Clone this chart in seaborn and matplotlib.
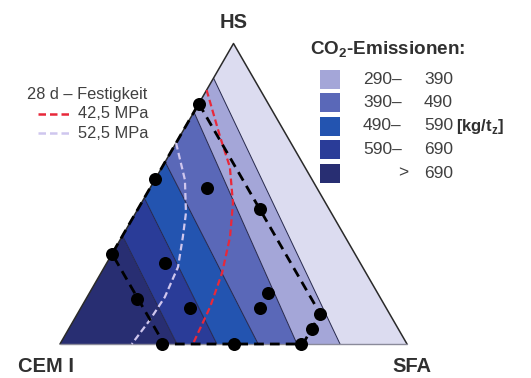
import numpy as np
import pandas as pd
import matplotlib
matplotlib.use("Agg")
import matplotlib.pyplot as plt
from matplotlib.patches import Rectangle, Polygon
import seaborn as sns

# --- CO2 emission bands: boundaries as HS share on the CEM I–HS edge and SFA share on the CEM I–SFA edge
band_levels = [690, 590, 490, 390, 290]
band_hs_edge = [0.360, 0.486, 0.606, 0.772, 0.885]
band_sfa_edge = [0.337, 0.452, 0.571, 0.683, 0.807]
band_colors = ["#282e72", "#2a3c98", "#2354b0", "#5a68b8", "#a4a6d8", "#dcdcf0"]  # >690 ... <290
legend_labels_left = ["290\u2013", "390\u2013", "490\u2013", "590\u2013", ">"]
legend_labels_right = ["390", "490", "590", "690", "690"]
legend_colors = ["#a4a6d8", "#5a68b8", "#2354b0", "#2a3c98", "#282e72"]

# --- tested mixtures (HS share, SFA share; CEM I is the rest)
mix_hs = [0.80, 0.55, 0.52, 0.45, 0.30, 0.27, 0.15, 0.17, 0.12, 0.12, 0.10, 0.05, 0.00, 0.00, 0.00]
mix_sfa = [0.00, 0.00, 0.165, 0.35, 0.00, 0.168, 0.147, 0.515, 0.516, 0.315, 0.70, 0.70, 0.294, 0.50, 0.695]

# --- boundary of the investigated region
region_hs = [0.80, 0.45, 0.10, 0.05, 0.00, 0.00, 0.15, 0.30, 0.80]
region_sfa = [0.00, 0.35, 0.70, 0.70, 0.70, 0.30, 0.15, 0.00, 0.00]

# --- 28 d strength isolines
iso425_hs = [0.845, 0.689, 0.589, 0.469, 0.356, 0.236, 0.123, 0.000]
iso425_sfa = [0.000, 0.117, 0.195, 0.264, 0.312, 0.349, 0.371, 0.383]
iso525_hs = [0.669, 0.546, 0.436, 0.356, 0.256, 0.156, 0.080, 0.000]
iso525_sfa = [0.000, 0.087, 0.145, 0.176, 0.212, 0.224, 0.219, 0.207]

SQ3 = np.sqrt(3) / 2


def tern(hs, sfa):
    hs = np.asarray(hs, float)
    sfa = np.asarray(sfa, float)
    return sfa + hs / 2, hs * SQ3


def px(xp, yp):
    # figure pixel position -> axes data position
    return (xp - 60) / 347.0, (344 - yp) / 347.0


sns.set_style("white")
plt.rcParams["font.family"] = ["Liberation Sans", "DejaVu Sans"]
plt.rcParams["mathtext.fontset"] = "custom"
plt.rcParams["mathtext.rm"] = "Liberation Sans"
plt.rcParams["mathtext.bf"] = "Liberation Sans:bold"

fig = plt.figure(figsize=(5.31, 3.78), dpi=100)
ax = fig.add_axes([0, 0, 1, 1])
ax.set_xlim(-60 / 347, 471 / 347)
ax.set_ylim(-34 / 347, 344 / 347)
ax.axis("off")

# band polygons
L = [tern(h, 0) for h in band_hs_edge]
B = [tern(0, s) for s in band_sfa_edge]
cem, sfa_v, hs_v = (0.0, 0.0), (1.0, 0.0), (0.5, SQ3)
polys = [[cem, B[0], L[0]]]
for i in range(1, len(L)):
    polys.append([L[i - 1], B[i - 1], B[i], L[i]])
polys.append([L[-1], B[-1], sfa_v, hs_v])
for poly, col in zip(polys, band_colors):
    ax.add_patch(Polygon(poly, closed=True, facecolor=col, edgecolor="none", zorder=1))
for l, b in zip(L, B):
    ax.plot([l[0], b[0]], [l[1], b[1]], color="#23254a", lw=0.7, zorder=2)

# triangle outline
ax.plot([cem[0], hs_v[0], sfa_v[0]], [cem[1], hs_v[1], sfa_v[1]], color="#2a2a2a", lw=1.1, zorder=3)
ax.plot([cem[0], sfa_v[0]], [cem[1], sfa_v[1]], color="#8a8a9a", lw=1.0, zorder=3)

# strength isolines
x, y = tern(iso525_hs, iso525_sfa)
sns.lineplot(x=x, y=y, sort=False, estimator=None, ax=ax, color="#cfc6ee",
             lw=1.6, linestyle=(0, (3, 1.6)), zorder=4)
x, y = tern(iso425_hs, iso425_sfa)
sns.lineplot(x=x, y=y, sort=False, estimator=None, ax=ax, color="#e8283a",
             lw=1.6, linestyle=(0, (3, 1.6)), zorder=4)

# investigated region
x, y = tern(region_hs, region_sfa)
sns.lineplot(x=x, y=y, sort=False, estimator=None, ax=ax, color="black",
             lw=2.0, linestyle=(0, (3.5, 2.2)), zorder=5)

# mixtures
x, y = tern(mix_hs, mix_sfa)
sns.scatterplot(x=x, y=y, ax=ax, s=88, color="black", edgecolor="black", linewidth=0, zorder=6)

# vertex labels
lab = dict(fontsize=14.5, fontweight="bold", color="#303030", ha="center", va="center")
ax.text(*px(234, 23), "HS", **lab)
ax.text(*px(46, 367), "CEM I", **lab)
ax.text(*px(412, 367), "SFA", **lab)

# emission legend
ax.text(*px(310, 50), r"CO$_\mathbf{2}$-Emissionen:", fontsize=13.6, fontweight="bold",
        color="#303030", ha="left", va="center")
row_y = [79, 102.5, 126, 149.5, 173]
for yy, col, ll, rr in zip(row_y, legend_colors, legend_labels_left, legend_labels_right):
    x0, y0 = px(320, yy + 9.5)
    ax.add_patch(Rectangle((x0, y0), 20 / 347, 19 / 347, facecolor=col, edgecolor="none"))
    lx = 398 if ll == ">" else 363
    ax.text(*px(lx, yy), ll, fontsize=12.5, color="#404040", ha="left", va="center")
    ax.text(*px(453, yy), rr, fontsize=12.5, color="#404040", ha="right", va="center")
ax.text(*px(456, 126), r"[kg/t$_\mathbf{z}$]", fontsize=12, fontweight="bold",
        color="#303030", ha="left", va="center")

# strength legend
ax.text(*px(27, 95), "28 d \u2013 Festigkeit", fontsize=11.8, color="#404040", ha="left", va="center")
for yy, col, txt in [(114, "#e8283a", "42,5 MPa"), (133, "#cfc6ee", "52,5 MPa")]:
    xa, ya = px(38, yy)
    xb, _ = px(70, yy)
    ax.plot([xa, xb], [ya, ya], color=col, lw=1.8, linestyle=(0, (3, 1.6)))
    ax.text(*px(78, yy), txt, fontsize=11.8, color="#404040", ha="left", va="center")

fig.savefig("out.png", dpi=100)
